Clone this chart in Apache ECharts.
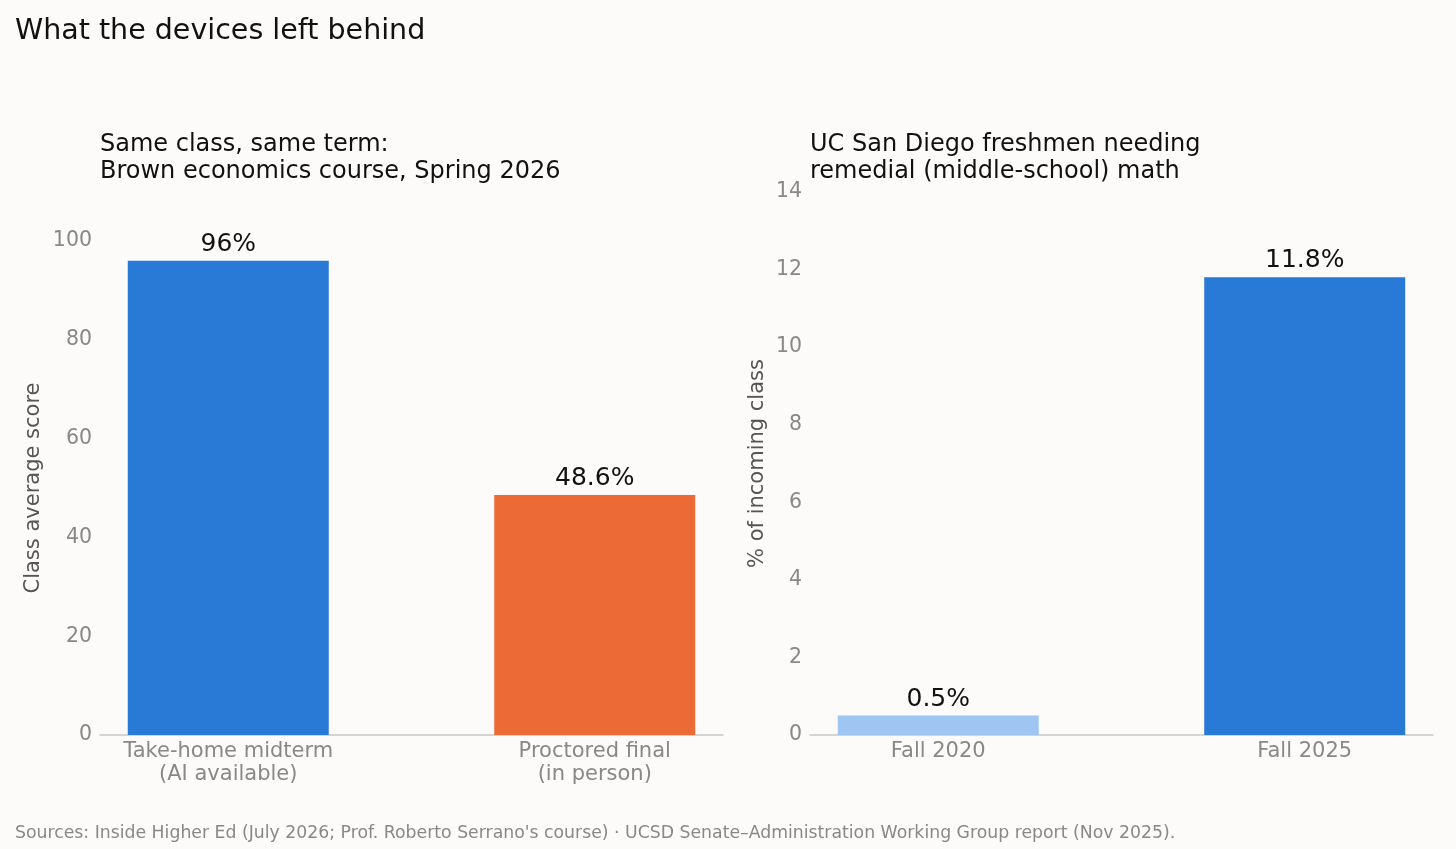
<!DOCTYPE html>
<html>
<head>
<meta charset="utf-8">
<script src="https://cdn.jsdelivr.net/npm/echarts@6/dist/echarts.min.js"></script>
<style>
  html, body { margin: 0; padding: 0; background: #fcfbf9; }
  #main { width: 1456px; height: 849px; }
</style>
</head>
<body>
<div id="main"></div>
<script>
var myChart = echarts.init(document.getElementById('main'))

// left panel: Brown economics course
var examNames = ['Take-home midterm\n(AI available)', 'Proctored final\n(in person)']
var examScores = [96, 48.6]
var examColors = ['#2979d6', '#eb6a35']
var scoreTicks = [0, 100, 20]   // min, max, step

// right panel: UCSD remedial math
var termNames = ['Fall 2020', 'Fall 2025']
var remedialPct = [0.5, 11.8]
var termColors = ['#9fc5f3', '#2979d6']
var pctTicks = [0, 14, 2]

var font = 'DejaVu Sans'
var grey = '#888888'

function barData(vals, colors) {
    return vals.map(function (v, i) {
        return { value: [i, v], itemStyle: { color: colors[i] } }
    })
}

function xAxisFor(idx, names) {
    return {
        type: 'value',
        gridIndex: idx,
        min: -0.35,
        max: 1.35,
        axisLine: { show: true, lineStyle: { color: '#c8c8c8', width: 1.5 } },
        axisTick: { show: false },
        splitLine: { show: false },
        axisLabel: {
            customValues: [0, 1],
            formatter: function (v) { return names[Math.round(v)] },
            color: grey,
            fontFamily: font,
            fontSize: 21,
            lineHeight: 23,
            margin: 5
        }
    }
}

function yAxisFor(idx, ticks, name, gap) {
    return {
        type: 'value',
        gridIndex: idx,
        min: ticks[0],
        max: ticks[1],
        interval: ticks[2],
        name: name,
        nameLocation: 'middle',
        nameGap: gap,
        nameTextStyle: { color: '#555555', fontFamily: font, fontSize: 21 },
        axisLine: { show: false },
        axisTick: { show: false },
        splitLine: { show: false },
        axisLabel: { color: grey, fontFamily: font, fontSize: 20.5, margin: 8, padding: [4, 0, 0, 0] }
    }
}

var barLabel = {
    show: true,
    position: 'top',
    distance: 4,
    color: '#111111',
    fontFamily: font,
    fontSize: 25,
    formatter: function (p) { return p.value[1] + '%' }
}

var option = {
    backgroundColor: '#fcfbf9',
    animation: false,
    title: [
        {
            text: 'What the devices left behind',
            left: 15, top: 17, padding: 0,
            textStyle: { fontFamily: font, fontSize: 28.5, fontWeight: 'normal', color: '#111111' }
        },
        {
            text: 'Same class, same term:\nBrown economics course, Spring 2026',
            left: 100, top: 131, padding: 0,
            textStyle: { fontFamily: font, fontSize: 24, fontWeight: 'normal', color: '#111111', lineHeight: 27 }
        },
        {
            text: 'UC San Diego freshmen needing\nremedial (middle-school) math',
            left: 810, top: 131, padding: 0,
            textStyle: { fontFamily: font, fontSize: 24, fontWeight: 'normal', color: '#111111', lineHeight: 27 }
        },
        {
            text: "Sources: Inside Higher Ed (July 2026; Prof. Roberto Serrano's course) · UCSD Senate–Administration Working Group report (Nov 2025).",
            left: 15, top: 825, padding: 0,
            textStyle: { fontFamily: font, fontSize: 17.3, fontWeight: 'normal', color: grey }
        }
    ],
    grid: [
        { left: 100, right: 733, top: 241, bottom: 114 },
        { left: 810, right: 23, top: 192, bottom: 114 }
    ],
    xAxis: [xAxisFor(0, examNames), xAxisFor(1, termNames)],
    yAxis: [
        yAxisFor(0, scoreTicks, 'Class average score', 56),
        yAxisFor(1, pctTicks, '% of incoming class', 42)
    ],
    series: [
        {
            type: 'bar', xAxisIndex: 0, yAxisIndex: 0,
            barWidth: 201,
            data: barData(examScores, examColors),
            label: barLabel
        },
        {
            type: 'bar', xAxisIndex: 1, yAxisIndex: 1,
            barWidth: 201,
            data: barData(remedialPct, termColors),
            label: barLabel
        }
    ]
}
myChart.setOption(option)
</script>
</body>
</html>
